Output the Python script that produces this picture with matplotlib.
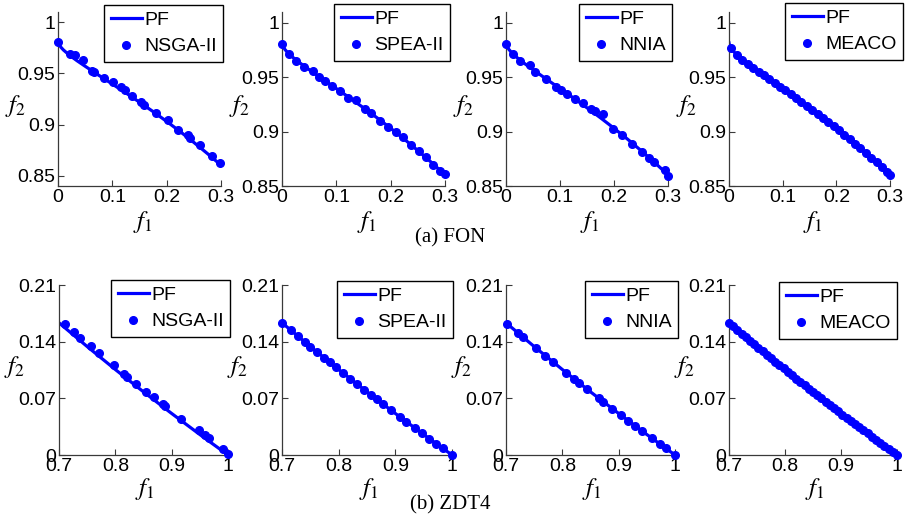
import matplotlib
matplotlib.use('Agg')
import matplotlib.pyplot as plt

plt.rcParams['font.family'] = ['Liberation Sans', 'DejaVu Sans']
plt.rcParams['mathtext.fontset'] = 'stix'

# ---------------- FON (top row) ----------------
fon_pf_f1 = [0, 0.001, 0.005, 0.01, 0.02, 0.035, 0.05, 0.075, 0.1, 0.125, 0.15,
             0.175, 0.2, 0.225, 0.25, 0.275, 0.3]
fon_pf_f2 = [0.9817, 0.9792, 0.9758, 0.9729, 0.9683, 0.9624, 0.9570, 0.9482, 0.9396,
             0.9309, 0.9219, 0.9127, 0.9031, 0.8931, 0.8826, 0.8717, 0.8603]

fon_nsga_f1 = [0, 0.022, 0.031, 0.046, 0.063, 0.066, 0.085, 0.101, 0.116, 0.124, 0.136,
               0.152, 0.159, 0.180, 0.202, 0.221, 0.240, 0.243, 0.262, 0.283, 0.299]
fon_nsga_f2 = [0.981, 0.969, 0.968, 0.963, 0.952, 0.951, 0.946, 0.942, 0.937, 0.934, 0.928,
               0.922, 0.919, 0.911, 0.904, 0.895, 0.890, 0.887, 0.880, 0.869, 0.862]

fon_spea_f1 = [0, 0.0129, 0.0264, 0.0406, 0.0572, 0.0682, 0.0787, 0.0928, 0.1063, 0.1217,
               0.1358, 0.1524, 0.1647, 0.1801, 0.1955, 0.2090, 0.2231, 0.2372, 0.2520,
               0.2643, 0.2772, 0.2907, 0.2995]
fon_spea_f2 = [0.9806, 0.9715, 0.9652, 0.9597, 0.9555, 0.9500, 0.9464, 0.9415, 0.9373, 0.9312,
               0.9288, 0.9206, 0.9167, 0.9100, 0.9039, 0.8994, 0.8948, 0.8879, 0.8818,
               0.8767, 0.8697, 0.8639, 0.8606]

fon_nnia_f1 = [0, 0.0129, 0.0264, 0.0436, 0.0541, 0.0744, 0.0922, 0.1020, 0.1125, 0.1278,
               0.1420, 0.1573, 0.1647, 0.179, 0.1973, 0.2139, 0.2336, 0.2520, 0.2643,
               0.2735, 0.2938, 0.2999]
fon_nnia_f2 = [0.9810, 0.9715, 0.9653, 0.9610, 0.9549, 0.9485, 0.9411, 0.9387, 0.9350, 0.9301,
               0.9264, 0.9212, 0.9187, 0.9166, 0.9025, 0.8966, 0.8890, 0.8810, 0.8758,
               0.8718, 0.8644, 0.8589]

fon_meaco_f1 = [0.003, 0.015, 0.025, 0.035, 0.045, 0.055, 0.065, 0.075, 0.085, 0.095,
                0.105, 0.115, 0.125, 0.135, 0.145, 0.155, 0.165, 0.175, 0.185, 0.195,
                0.205, 0.215, 0.225, 0.235, 0.245, 0.255, 0.265, 0.275, 0.285, 0.295, 0.3]
fon_meaco_f2 = [0.9766, 0.9705, 0.9663, 0.9624, 0.9587, 0.9552, 0.9517, 0.9482, 0.9448, 0.9413,
                0.9379, 0.9344, 0.9309, 0.9273, 0.9237, 0.9201, 0.9164, 0.9127, 0.9089, 0.9050,
                0.9011, 0.8971, 0.8931, 0.8889, 0.8847, 0.8805, 0.8761, 0.8717, 0.8672, 0.8626,
                0.8603]

# ---------------- ZDT4 (bottom row) ----------------
zdt_pf_f1 = [0.7, 0.75, 0.8, 0.85, 0.9, 0.95, 1.0]
zdt_pf_f2 = [0.1633, 0.1340, 0.1056, 0.0780, 0.0513, 0.0253, 0.0]

zdt_nsga_f1 = [0.711, 0.726, 0.737, 0.756, 0.771, 0.798, 0.815, 0.821, 0.837, 0.854,
               0.868, 0.885, 0.889, 0.917, 0.948, 0.959, 0.966, 0.991, 1.0]
zdt_nsga_f2 = [0.1614, 0.1518, 0.1447, 0.1343, 0.1256, 0.1110, 0.0998, 0.0969, 0.0873, 0.0782,
               0.0715, 0.0636, 0.0603, 0.0449, 0.0304, 0.0250, 0.0208, 0.0075, 0.0008]

zdt_spea_f1 = [0.700, 0.715, 0.728, 0.740, 0.750, 0.762, 0.774, 0.784, 0.795, 0.808, 0.820,
               0.832, 0.845, 0.857, 0.867, 0.879, 0.892, 0.909, 0.919, 0.934, 0.947, 0.960,
               0.972, 0.984, 1.000]
zdt_spea_f2 = [0.1633, 0.1544, 0.1468, 0.1398, 0.1340, 0.1271, 0.1202, 0.1146, 0.1084, 0.1011,
               0.0945, 0.0879, 0.0808, 0.0743, 0.0689, 0.0625, 0.0555, 0.0466, 0.0413, 0.0336,
               0.0269, 0.0202, 0.0141, 0.0081, 0.0]

zdt_nnia_f1 = [0.702, 0.721, 0.730, 0.754, 0.770, 0.784, 0.807, 0.820, 0.829, 0.844, 0.865,
               0.873, 0.889, 0.904, 0.917, 0.929, 0.941, 0.959, 0.973, 0.984, 1.0]
zdt_nnia_f2 = [0.1621, 0.1509, 0.1456, 0.1317, 0.1225, 0.1146, 0.1017, 0.0945, 0.0895, 0.0813,
               0.0699, 0.0656, 0.0571, 0.0492, 0.0424, 0.0362, 0.0300, 0.0207, 0.0136, 0.0081,
               0.0]

zdt_meaco_f1 = [0.7000, 0.7075, 0.7150, 0.7225, 0.7300, 0.7375, 0.7450, 0.7525, 0.7600, 0.7675,
                0.7750, 0.7825, 0.7900, 0.7975, 0.8050, 0.8125, 0.8200, 0.8275, 0.8350, 0.8425,
                0.8500, 0.8575, 0.8650, 0.8725, 0.8800, 0.8875, 0.8950, 0.9025, 0.9100, 0.9175,
                0.9250, 0.9325, 0.9400, 0.9475, 0.9550, 0.9625, 0.9700, 0.9775, 0.9850, 0.9925,
                1.0000]
zdt_meaco_f2 = [0.1633, 0.1589, 0.1544, 0.1500, 0.1456, 0.1412, 0.1369, 0.1325, 0.1282, 0.1239,
                0.1197, 0.1154, 0.1112, 0.1070, 0.1028, 0.0986, 0.0945, 0.0903, 0.0862, 0.0821,
                0.0780, 0.0740, 0.0699, 0.0659, 0.0619, 0.0579, 0.0540, 0.0500, 0.0461, 0.0422,
                0.0382, 0.0343, 0.0305, 0.0266, 0.0228, 0.0189, 0.0151, 0.0113, 0.0075, 0.0038,
                0.0]

algos = ['NSGA-II', 'SPEA-II', 'NNIA', 'MEACO']
fon_sets = [(fon_nsga_f1, fon_nsga_f2), (fon_spea_f1, fon_spea_f2),
            (fon_nnia_f1, fon_nnia_f2), (fon_meaco_f1, fon_meaco_f2)]
zdt_sets = [(zdt_nsga_f1, zdt_nsga_f2), (zdt_spea_f1, zdt_spea_f2),
            (zdt_nnia_f1, zdt_nnia_f2), (zdt_meaco_f1, zdt_meaco_f2)]

fon_xticks = [0, 0.1, 0.2, 0.3]
fon_yticks = [0.85, 0.9, 0.95, 1]
fon_yticklabels = ['0.85', '0.9', '0.95', '1']
zdt_xticks = [0.7, 0.8, 0.9, 1]
zdt_yticks = [0, 0.07, 0.14, 0.21]
zdt_yticklabels = ['0', '0.07', '0.14', '0.21']

W, H = 911, 522
fig = plt.figure(figsize=(W / 100, H / 100), dpi=100)

# pixel layout: (left, right) of each panel, legend upper-right corner
top_lr = [(58, 221), (282, 445), (506, 668), (729, 890)]
bot_lr = [(59, 228), (282, 452), (506, 675), (729, 897)]
top_leg = [(223, 5), (450, 4), (672, 4), (903, 3)]
bot_leg = [(230, 280), (453, 281), (678, 281), (897, 282)]

blue = '#0000ff'
spine_col = '#3a3a3a'


def style_axes(ax):
    for s in ['top', 'right']:
        ax.spines[s].set_visible(False)
    for s in ['left', 'bottom']:
        ax.spines[s].set_color(spine_col)
        ax.spines[s].set_linewidth(0.9)
    ax.tick_params(direction='in', length=4, width=0.8, color=spine_col,
                   labelsize=14, pad=2)


def add_panel(lr, top_px, bot_px, pf, pts, name, leg_xy, row):
    l, r = lr
    ax = fig.add_axes([l / W, 1 - bot_px / H, (r - l) / W, (bot_px - top_px) / H])
    ax.plot(pf[0], pf[1], color=blue, lw=2.3, label='PF', zorder=2)
    ax.plot(pts[0], pts[1], 'o', color=blue, ms=5.5, mec=blue, label=name,
            clip_on=False, zorder=3)
    style_axes(ax)
    if row == 0:
        ax.set_xlim(0, 0.3)
        ax.set_xticks(fon_xticks)
        ax.set_xticklabels(['0', '0.1', '0.2', '0.3'])
        ax.set_yticks(fon_yticks)
        ax.set_yticklabels(fon_yticklabels)
    else:
        ax.set_xlim(0.7, 1)
        ax.set_xticks(zdt_xticks)
        ax.set_xticklabels(['0.7', '0.8', '0.9', '1'])
        ax.set_ylim(0, 0.21)
        ax.set_yticks(zdt_yticks)
        ax.set_yticklabels(zdt_yticklabels)
    ax.set_xlabel(r'$f_{\mathit{1}}$', fontsize=18)
    ax.set_ylabel(r'$f_{\mathit{2}}$', fontsize=18, rotation=0)
    hpx = bot_px - top_px
    wpx = r - l
    if row == 0:
        ax.xaxis.set_label_coords(0.52, -36 / hpx)
        ax.yaxis.set_label_coords(-43 / wpx, 0.46)
    else:
        ax.xaxis.set_label_coords(0.51, -34 / hpx)
        ax.yaxis.set_label_coords(-45 / wpx, 0.52)
    ax.xaxis.label.set_va('center')
    ax.yaxis.label.set_va('center')
    ax.yaxis.label.set_ha('center')
    leg = ax.legend(loc='upper right', bbox_to_anchor=(leg_xy[0] / W, 1 - leg_xy[1] / H),
                    bbox_transform=fig.transFigure, borderaxespad=0, fontsize=14,
                    handlelength=1.6, handletextpad=0.12, labelspacing=0.45,
                    borderpad=0.33, fancybox=False, framealpha=1)
    leg.get_frame().set_edgecolor('black')
    leg.get_frame().set_linewidth(1.0)
    return ax


for i in range(4):
    ax = add_panel(top_lr[i], 12, 186, (fon_pf_f1, fon_pf_f2), fon_sets[i],
                   algos[i], top_leg[i], 0)
    if i == 0:
        ax.set_ylim(0.84, 1.01)
    else:
        ax.set_ylim(0.85, 1.01)

for i in range(4):
    add_panel(bot_lr[i], 285, 455, (zdt_pf_f1, zdt_pf_f2), zdt_sets[i],
              algos[i], bot_leg[i], 1)

fig.text(450 / W, 1 - 238 / H, '(a) FON', ha='center', va='center', fontsize=15,
         family='Liberation Serif')
fig.text(450 / W, 1 - 505 / H, '(b) ZDT4', ha='center', va='center', fontsize=15,
         family='Liberation Serif')

fig.savefig('out.png', dpi=100)
